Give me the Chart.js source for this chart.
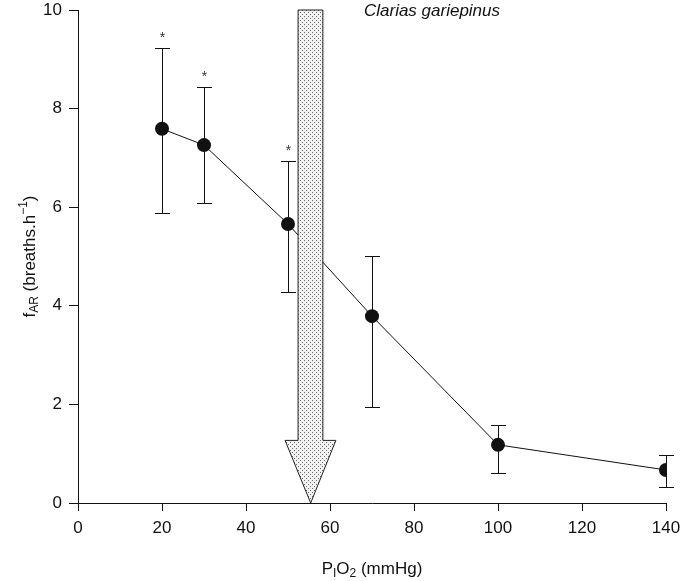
<!DOCTYPE html>
<html>
<head>
<meta charset="utf-8">
<script src="https://cdn.jsdelivr.net/npm/chart.js@4.4.0/dist/chart.umd.min.js"></script>
<style>
  html, body { margin: 0; padding: 0; background: #fff; }
  canvas { display: block; }
</style>
</head>
<body>
<canvas id="chart" width="685" height="581"></canvas>
<script>
// data
const po2 = [20, 30, 50, 70, 100, 140];
const fAR = [7.59, 7.26, 5.66, 3.79, 1.18, 0.67];
const errHigh = [9.23, 8.44, 6.94, 5.01, 1.58, 0.97];
const errLow = [5.88, 6.08, 4.28, 1.95, 0.61, 0.32];
const significant = [true, true, true, false, false, false];
const xTicks = [0, 20, 40, 60, 80, 100, 120, 140];
const yTicks = [0, 2, 4, 6, 8, 10];

// critical PO2 arrow (in data units)
const arrowX = 55.4;
const arrowShaft = [52.4, 58.3];
const arrowHead = [49.3, 61.4];
const arrowNeckY = 1.27;
const arrowTopY = 10;

const FONT = '"Liberation Sans", Arial, sans-serif';

// dotted fill like the printed arrow
function dotPattern(ctx) {
    const c = document.createElement('canvas');
    c.width = 4; c.height = 4;
    const p = c.getContext('2d');
    p.fillStyle = '#f2f2f2';
    p.fillRect(0, 0, 4, 4);
    p.fillStyle = '#6a6a6a';
    p.fillRect(0, 0, 1, 1);
    p.fillRect(2, 2, 1, 1);
    return ctx.createPattern(c, 'repeat');
}

// draws text pieces with sub/superscripts
function drawRich(ctx, parts, cx, cy) {
    const big = '17px ' + FONT, small = '12px ' + FONT;
    let w = 0;
    parts.forEach(p => {
        ctx.font = p.s ? small : big;
        w += ctx.measureText(p.t).width;
    });
    let x = cx - w / 2;
    ctx.textBaseline = 'middle';
    ctx.textAlign = 'left';
    parts.forEach(p => {
        ctx.font = p.s ? small : big;
        const dy = p.s === 'sub' ? 5 : (p.s === 'sup' ? -6 : 0);
        ctx.fillText(p.t, x, cy + dy);
        x += ctx.measureText(p.t).width;
    });
}

const extras = {
    id: 'extras',
    beforeDatasetsDraw(chart) {
        const { ctx, scales: { x, y } } = chart;
        ctx.save();
        ctx.strokeStyle = '#111';
        ctx.lineWidth = 1;
        po2.forEach((v, i) => {
            const px = Math.round(x.getPixelForValue(v)) + 0.5;
            const hi = Math.round(y.getPixelForValue(errHigh[i])) + 0.5;
            const lo = Math.round(y.getPixelForValue(errLow[i])) + 0.5;
            ctx.beginPath();
            ctx.moveTo(px, hi); ctx.lineTo(px, lo);
            ctx.moveTo(px - 7.5, hi); ctx.lineTo(px + 7.5, hi);
            ctx.moveTo(px - 7.5, lo); ctx.lineTo(px + 7.5, lo);
            ctx.stroke();
            if (significant[i]) {
                ctx.fillStyle = '#333';
                ctx.font = '14px ' + FONT;
                ctx.textAlign = 'center';
                ctx.textBaseline = 'middle';
                ctx.fillText('*', px, hi - 10);
            }
        });
        ctx.restore();
    },
    afterDatasetsDraw(chart) {
        const { ctx, scales: { x, y } } = chart;
        ctx.save();
        const sL = x.getPixelForValue(arrowShaft[0]), sR = x.getPixelForValue(arrowShaft[1]);
        const hL = x.getPixelForValue(arrowHead[0]), hR = x.getPixelForValue(arrowHead[1]);
        const tip = x.getPixelForValue(arrowX);
        const top = y.getPixelForValue(arrowTopY), neck = y.getPixelForValue(arrowNeckY);
        const bottom = y.getPixelForValue(0);
        ctx.beginPath();
        ctx.moveTo(sL, top);
        ctx.lineTo(sR, top);
        ctx.lineTo(sR, neck);
        ctx.lineTo(hR, neck);
        ctx.lineTo(tip, bottom);
        ctx.lineTo(hL, neck);
        ctx.lineTo(sL, neck);
        ctx.closePath();
        ctx.fillStyle = dotPattern(ctx);
        ctx.fill();
        ctx.strokeStyle = '#222';
        ctx.lineWidth = 1;
        ctx.stroke();

        // species label
        ctx.fillStyle = '#111';
        ctx.font = 'italic 17px ' + FONT;
        ctx.textAlign = 'center';
        ctx.textBaseline = 'middle';
        ctx.fillText('Clarias gariepinus', 432, 11);

        // axis titles
        drawRich(ctx, [{ t: 'P' }, { t: 'I', s: 'sub' }, { t: 'O' }, { t: '2', s: 'sub' }, { t: ' (mmHg)' }],
            (chart.chartArea.left + chart.chartArea.right) / 2, 569);
        ctx.translate(30, (chart.chartArea.top + chart.chartArea.bottom) / 2);
        ctx.rotate(-Math.PI / 2);
        drawRich(ctx, [{ t: 'f' }, { t: 'AR', s: 'sub' }, { t: ' (breaths.h' }, { t: '\u22121', s: 'sup' }, { t: ')' }], 0, 0);
        ctx.restore();
    }
};

const ctx = document.getElementById('chart').getContext('2d');
const chart = new Chart(ctx, {
    type: 'scatter',
    data: {
        datasets: [{
            data: po2.map((v, i) => ({ x: v, y: fAR[i] })),
            showLine: true,
            borderColor: '#111',
            borderWidth: 1,
            backgroundColor: '#111',
            pointRadius: 7,
            pointBorderWidth: 0
        }]
    },
    options: {
        responsive: false,
        devicePixelRatio: 1,
        animation: false,
        layout: { padding: { top: 10, right: 19, left: 0, bottom: 0 } },
        plugins: { legend: { display: false }, tooltip: { enabled: false } },
        scales: {
            x: {
                type: 'linear',
                min: 0, max: 140,
                afterBuildTicks: s => { s.ticks = xTicks.map(v => ({ value: v })); },
                afterFit: s => { s.height = 78; s.paddingLeft = 0; s.paddingRight = 0; },
                grid: { drawOnChartArea: false, drawTicks: true, tickLength: 8, color: '#111' },
                border: { display: true, color: '#111', width: 1 },
                ticks: { color: '#111', font: { size: 17, family: FONT }, padding: 7, maxRotation: 0 }
            },
            y: {
                min: 0, max: 10,
                afterBuildTicks: s => { s.ticks = yTicks.map(v => ({ value: v })); },
                afterFit: s => { s.width = 78; s.paddingTop = 0; s.paddingBottom = 0; },
                grid: { drawOnChartArea: false, drawTicks: true, tickLength: 9, color: '#111' },
                border: { display: true, color: '#111', width: 1 },
                ticks: { color: '#111', font: { size: 17, family: FONT }, padding: 7 }
            }
        }
    },
    plugins: [extras]
});
</script>
</body>
</html>
